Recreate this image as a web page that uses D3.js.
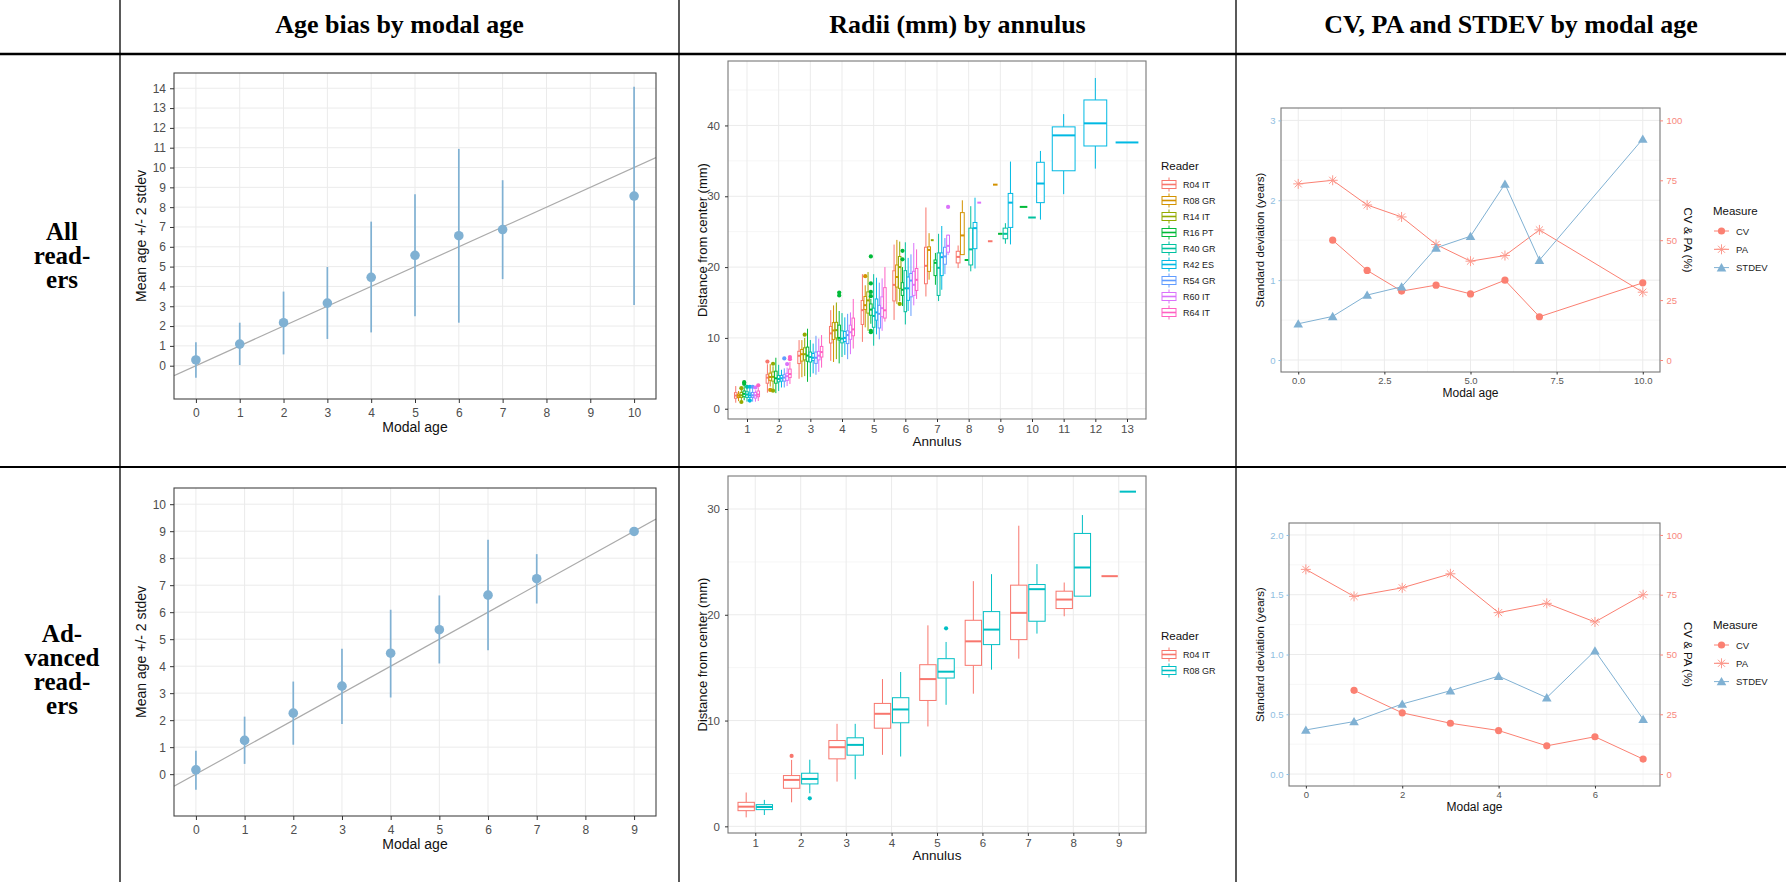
<!DOCTYPE html>
<html>
<head>
<meta charset="utf-8">
<script src="https://cdn.jsdelivr.net/npm/d3@7"></script>
<style>
  body { margin: 0; background: #fff; }
  svg text { font-family: "Liberation Sans", Arial, sans-serif; }
  svg text.tbl { font-family: "Liberation Serif", "Times New Roman", serif; font-weight: bold; }
</style>
</head>
<body>
<svg id="fig" width="1786" height="882"></svg>
<script>
// ---- table text ----
var headers = ["Age bias by modal age", "Radii (mm) by annulus", "CV, PA and STDEV by modal age"];
var rowLabelsAll = ["All", "read-", "ers"];
var rowLabelsAdv = ["Ad-", "vanced", "read-", "ers"];

// ---- age bias (mean +/- 2 stdev) ----
var biasAllAge = [0, 1, 2, 3, 4, 5, 6, 7, 10];
var biasAllMean = [0.29, 1.09, 2.17, 3.16, 4.46, 5.57, 6.56, 6.87, 8.56];
var biasAllLow = [-0.61, 0.03, 0.57, 1.35, 1.68, 2.49, 2.17, 4.37, 3.06];
var biasAllHigh = [1.18, 2.17, 3.74, 4.98, 7.27, 8.65, 10.94, 9.36, 14.08];
var biasAllXTicks = [0, 1, 2, 3, 4, 5, 6, 7, 8, 9, 10];
var biasAllYTicks = [0, 1, 2, 3, 4, 5, 6, 7, 8, 9, 10, 11, 12, 13, 14];

var biasAdvAge = [0, 1, 2, 3, 4, 5, 6, 7, 9];
var biasAdvMean = [0.16, 1.25, 2.26, 3.26, 4.48, 5.35, 6.63, 7.24, 8.99];
var biasAdvLow = [-0.58, 0.38, 1.09, 1.86, 2.84, 4.10, 4.59, 6.32, 8.99];
var biasAdvHigh = [0.87, 2.13, 3.43, 4.65, 6.09, 6.62, 8.68, 8.15, 8.99];
var biasAdvXTicks = [0, 1, 2, 3, 4, 5, 6, 7, 8, 9];
var biasAdvYTicks = [0, 1, 2, 3, 4, 5, 6, 7, 8, 9, 10];

// ---- radii boxplots: per reader, per annulus [low whisker, q1, median, q3, high whisker] ----
var readersAll = ["R04 IT", "R08 GR", "R14 IT", "R16 PT", "R40 GR", "R42 ES", "R54 GR", "R60 IT", "R64 IT"];
var readersAdv = ["R04 IT", "R08 GR"];
var annulusAll = [1, 2, 3, 4, 5, 6, 7, 8, 9, 10, 11, 12, 13];
var annulusAdv = [1, 2, 3, 4, 5, 6, 7, 8, 9];
var radiiYTicksAll = [0, 10, 20, 30, 40];
var radiiYMinorAll = [5, 15, 25, 35, 45];
var radiiYTicksAdv = [0, 10, 20, 30];
var radiiYMinorAdv = [5, 15, 25];

var r04 = [[0.85, 1.48, 1.86, 2.27, 3.2], [2.27, 3.6, 4.39, 4.8, 6.28], [4.23, 6.38, 7.48, 8.11, 9.69],
  [6.76, 9.28, 10.64, 11.62, 13.92], [9.44, 11.9, 13.92, 15.28, 19.0], [12.54, 15.22, 17.49, 19.48, 23.18],
  [15.85, 17.65, 20.18, 22.8, 28.42], [19.86, 20.59, 21.44, 22.23, 23.05], [23.65, 23.65, 23.65, 23.65, 23.65]];
var r08 = [[1.07, 1.58, 1.83, 2.05, 2.5], [3.13, 4.01, 4.48, 5.02, 6.3], [4.45, 6.73, 7.7, 8.37, 9.69],
  [6.6, 9.79, 11.05, 12.16, 14.59], [11.49, 14.02, 14.62, 15.85, 17.43], [14.81, 17.18, 18.6, 20.3, 23.84],
  [18.22, 19.39, 22.42, 22.86, 24.79], [21.76, 21.76, 24.47, 27.69, 29.43], [31.64, 31.64, 31.64, 31.64, 31.64]];
var r14 = [[1.1, 1.6, 1.9, 2.3, 2.7], [2.8, 3.9, 4.5, 5.2, 6.0], [4.6, 6.9, 7.7, 8.6, 10.0],
  [7.0, 10.0, 11.1, 12.2, 15.0], [11.0, 13.5, 15.3, 16.5, 19.3], [15.2, 17.0, 20.0, 21.5, 23.6],
  [23.8, 23.8, 23.8, 23.8, 23.8]];
var r16 = [[1.2, 1.7, 2.1, 2.5, 3.2], [2.2, 3.6, 4.3, 5.3, 7.2], [3.8, 6.7, 7.5, 8.7, 11.3],
  [6.4, 9.7, 10.0, 11.8, 13.8], [12.0, 13.2, 14.0, 14.8, 15.5], [14.5, 16.0, 16.8, 17.8, 20.0],
  [17.5, 18.8, 20.6, 21.0, 22.0], [21.0, 21.0, 21.0, 21.0, 21.0], [24.7, 24.7, 24.7, 24.7, 24.7],
  [28.5, 28.5, 28.5, 28.5, 28.5]];
var r40 = [[1.0, 1.6, 2.0, 2.4, 3.0], [2.5, 3.8, 4.2, 4.7, 6.2], [4.5, 6.6, 7.3, 8.0, 9.7],
  [7.3, 9.3, 9.9, 11.0, 13.5], [8.9, 11.5, 13.1, 14.2, 19.0], [11.9, 13.7, 17.0, 19.5, 23.5],
  [15.2, 16.0, 19.9, 22.0, 24.7], [19.4, 20.3, 22.5, 25.5, 28.6], [23.3, 24.0, 24.7, 25.5, 26.2],
  [27.0, 27.0, 27.0, 27.0, 27.0]];
var r42 = [[1.4, 1.6, 1.9, 2.2, 2.8], [3.0, 3.9, 4.3, 4.7, 5.5], [5.0, 6.8, 7.2, 7.8, 9.2],
  [7.6, 9.5, 10.0, 10.9, 12.9], [10.5, 12.5, 13.6, 15.5, 18.5], [13.8, 15.3, 17.0, 18.6, 21.3],
  [16.8, 18.8, 21.4, 22.0, 25.8], [19.8, 22.6, 25.5, 26.3, 29.8], [23.2, 25.6, 29.1, 30.4, 34.9],
  [26.7, 29.1, 31.8, 34.8, 36.4], [30.3, 33.6, 38.6, 39.8, 41.6], [33.9, 37.1, 40.3, 43.6, 46.7],
  [37.6, 37.6, 37.6, 37.6, 37.6]];
var r54 = [[1.0, 1.6, 1.9, 2.3, 2.9], [3.0, 3.9, 4.4, 4.8, 5.7], [4.8, 6.4, 7.2, 8.0, 10.3],
  [7.0, 9.2, 10.4, 11.0, 13.4], [9.8, 11.4, 13.4, 14.6, 17.8], [13.1, 15.8, 18.1, 19.1, 21.8],
  [19.0, 20.4, 21.5, 22.8, 24.1]];
var r60 = [[1.0, 1.5, 1.9, 2.3, 2.6], [3.2, 4.0, 4.6, 5.0, 5.8], [5.2, 6.9, 7.5, 8.1, 9.9],
  [7.7, 9.8, 10.8, 11.8, 13.6], [11.0, 13.0, 14.2, 15.8, 18.4], [14.6, 16.0, 17.5, 19.4, 23.4],
  [21.7, 22.1, 23.0, 24.5, 24.6], [29.1, 29.1, 29.1, 29.1, 29.1]];
var r64 = [[1.1, 1.7, 2.0, 2.5, 3.0], [3.5, 4.4, 4.9, 5.6, 6.6], [5.8, 7.3, 8.0, 8.8, 10.4],
  [8.5, 10.3, 11.2, 12.8, 15.5], [12.3, 12.8, 13.9, 17.1, 20.0], [15.5, 16.7, 18.2, 19.8, 22.5]];

// outliers: [annulus, value]
var r04Out = [[2, 6.66]];
var r08Out = [[2, 2.65], [5, 18.72]];
var r14Out = [[1, 2.9], [1, 0.95], [2, 6.35], [2, 2.55], [3, 10.45], [6, 14.8]];
var r16Out = [[1, 3.5], [1, 3.75], [4, 16.0], [4, 16.4], [5, 21.5], [5, 17.7], [5, 16.5], [5, 15.9], [5, 11.0], [5, 10.8], [6, 22.3], [6, 21.1]];
var r40Out = [[1, 3.1]];
var r42Out = [[1, 1.15], [1, 3.1]];
var r54Out = [[1, 3.1], [2, 7.1]];
var r60Out = [[1, 3.0], [2, 6.3], [7, 28.5]];
var r64Out = [[1, 3.3], [2, 7.0], [2, 7.3]];

// ---- CV, PA (%) and STDEV (years) ----
var measAllAge = [0, 1, 2, 3, 4, 5, 6, 7, 10];
var stdevAll = [0.454, 0.546, 0.813, 0.917, 1.404, 1.55, 2.204, 1.25, 2.767];
var cvAll = [null, 50.0, 37.4, 28.75, 31.25, 27.6, 33.3, 18.05, 32.2];
var paAll = [73.5, 75.0, 64.7, 59.7, 48.2, 41.25, 43.6, 54.3, 28.3];
var measAllXTicks = [0, 2.5, 5, 7.5, 10];
var measAllXMinor = [1.25, 3.75, 6.25, 8.75];
var measAllYTicks = [0, 1, 2, 3];
var measAllYMinor = [0.5, 1.5, 2.5];

var measAdvAge = [0, 1, 2, 3, 4, 5, 6, 7];
var stdevAdv = [0.369, 0.439, 0.586, 0.697, 0.819, 0.639, 1.031, 0.458];
var cvAdv = [null, 35.0, 25.6, 21.25, 18.2, 11.8, 15.6, 6.25];
var paAdv = [85.6, 74.3, 77.9, 83.75, 67.5, 71.4, 63.6, 75.0];
var measAdvXTicks = [0, 2, 4, 6];
var measAdvXMinor = [1, 3, 5, 7];
var measAdvYTicks = [0, 0.5, 1, 1.5, 2];
var measAdvYMinor = [0.25, 0.75, 1.25, 1.75];
var pctTicks = [0, 25, 50, 75, 100];
var measureNames = ["CV", "PA", "STDEV"];

// ---- colours ----
var blue = "#80B1D3";
var salmon = "#FB8072";
var hue9 = ["#F8766D", "#D39200", "#93AA00", "#00BA38", "#00C19F", "#00B9E3", "#619CFF", "#DB72FB", "#FF61C3"];
var hue2 = ["#F8766D", "#00BFC4"];

var svg = d3.select("#fig");
var clipN = 0;

function makeClip(b) {
  var id = "clip" + (clipN++);
  svg.append("clipPath").attr("id", id).append("rect")
    .attr("x", b.l).attr("y", b.t).attr("width", b.r - b.l).attr("height", b.b - b.t);
  return "url(#" + id + ")";
}

function gridLines(g, b, x, y, xs, ys, color, w) {
  g.append("g").selectAll("line").data(xs).join("line")
    .attr("x1", d => x(d)).attr("x2", d => x(d)).attr("y1", b.t).attr("y2", b.b)
    .attr("stroke", color).attr("stroke-width", w);
  g.append("g").selectAll("line").data(ys).join("line")
    .attr("x1", b.l).attr("x2", b.r).attr("y1", d => y(d)).attr("y2", d => y(d))
    .attr("stroke", color).attr("stroke-width", w);
}

function styleAxis(ax, size, textColor, tickColor) {
  ax.select(".domain").remove();
  ax.attr("font-size", size).attr("font-family", null);
  ax.selectAll(".tick line").attr("stroke", tickColor || "#333");
  ax.selectAll(".tick text").attr("fill", textColor || "#4D4D4D");
}

function border(g, b, color) {
  g.append("rect").attr("x", b.l).attr("y", b.t).attr("width", b.r - b.l).attr("height", b.b - b.t)
    .attr("fill", "none").attr("stroke", color).attr("stroke-width", 1.1);
}

// ---------- table ----------
[120, 679, 1236].forEach(function(xv) {
  svg.append("line").attr("x1", xv).attr("x2", xv).attr("y1", 0).attr("y2", 882)
    .attr("stroke", "#000").attr("stroke-width", 1.3);
});
svg.append("line").attr("x1", 0).attr("x2", 1786).attr("y1", 54).attr("y2", 54)
  .attr("stroke", "#000").attr("stroke-width", 2.6);
svg.append("line").attr("x1", 0).attr("x2", 1786).attr("y1", 467).attr("y2", 467)
  .attr("stroke", "#000").attr("stroke-width", 1.8);

var colCenters = [399.5, 957.5, 1511];
svg.selectAll("text.hdr").data(headers).join("text")
  .attr("class", "tbl hdr").attr("x", (d, i) => colCenters[i]).attr("y", 33)
  .attr("text-anchor", "middle").attr("font-size", 26).text(d => d);

// row labels: one text element per cell, one tspan per line
function rowLabel(lines, y0) {
  var t = svg.append("text").attr("class", "tbl").attr("x", 62).attr("y", y0)
    .attr("text-anchor", "middle").attr("font-size", 25);
  t.selectAll("tspan").data(lines).join("tspan")
    .attr("x", 62).attr("dy", (d, i) => i === 0 ? 0 : 24).text(d => d);
}
rowLabel(rowLabelsAll, 240);
rowLabel(rowLabelsAdv, 642);

// ---------- age bias ----------
function biasChart(b, ages, mean, low, high, xDom, xTicks, yDom, yTicks) {
  var x = d3.scaleLinear().domain(xDom).range([b.l, b.r]);
  var y = d3.scaleLinear().domain(yDom).range([b.b, b.t]);
  var g = svg.append("g");
  gridLines(g, b, x, y, xTicks, yTicks, "#EBEBEB", 1);

  g.append("line").attr("clip-path", makeClip(b))
    .attr("x1", x(xDom[0])).attr("y1", y(xDom[0]))
    .attr("x2", x(xDom[1])).attr("y2", y(xDom[1]))
    .attr("stroke", "#ABABAB").attr("stroke-width", 1.2);

  var pts = ages.map((a, i) => ({ a: a, m: mean[i], lo: low[i], hi: high[i] }));
  g.append("g").selectAll("line").data(pts).join("line")
    .attr("x1", d => x(d.a)).attr("x2", d => x(d.a))
    .attr("y1", d => y(d.lo)).attr("y2", d => y(d.hi))
    .attr("stroke", blue).attr("stroke-width", 1.7);
  g.append("g").selectAll("circle").data(pts).join("circle")
    .attr("cx", d => x(d.a)).attr("cy", d => y(d.m)).attr("r", 4.8).attr("fill", blue);

  border(g, b, "#444");

  var ax = g.append("g").attr("transform", "translate(0," + b.b + ")")
    .call(d3.axisBottom(x).tickValues(xTicks).tickSize(4).tickPadding(5));
  styleAxis(ax, 12);
  var ay = g.append("g").attr("transform", "translate(" + b.l + ",0)")
    .call(d3.axisLeft(y).tickValues(yTicks).tickSize(4).tickPadding(4));
  styleAxis(ay, 12);

  g.append("text").attr("x", (b.l + b.r) / 2).attr("y", b.b + 33)
    .attr("text-anchor", "middle").attr("font-size", 14).attr("fill", "#111").text("Modal age");
  g.append("text").attr("transform", "translate(146," + (b.t + b.b) / 2 + ") rotate(-90)")
    .attr("text-anchor", "middle").attr("font-size", 14).attr("fill", "#111").text("Mean age +/- 2 stdev");
}

biasChart({ l: 174, r: 656, t: 73, b: 399 }, biasAllAge, biasAllMean, biasAllLow, biasAllHigh,
  [-0.5, 10.5], biasAllXTicks, [-1.68, 14.77], biasAllYTicks);
biasChart({ l: 174, r: 656, t: 488, b: 816 }, biasAdvAge, biasAdvMean, biasAdvLow, biasAdvHigh,
  [-0.45, 9.45], biasAdvXTicks, [-1.55, 10.6], biasAdvYTicks);

// ---------- radii by annulus ----------
function radiiChart(b, names, colors, boxes, outs, annuli, yDom, yTicks, yMinor, legTop) {
  var x = d3.scaleLinear().domain([0.4, annuli.length + 0.6]).range([b.l, b.r]);
  var y = d3.scaleLinear().domain(yDom).range([b.b, b.t]);
  var g = svg.append("g");
  gridLines(g, b, x, y, [], yMinor, "#F4F4F4", 0.8);
  gridLines(g, b, x, y, annuli, yTicks, "#EBEBEB", 1);

  var items = [];
  annuli.forEach(function(a) {
    var here = names.map((n, i) => i).filter(i => boxes[i][a - 1]);
    var slot = 0.8 / here.length;
    here.forEach(function(i, j) {
      items.push({
        c: a - 0.4 + (j + 0.5) * slot,
        half: slot * 0.45,
        s: boxes[i][a - 1],
        col: colors[i],
        outs: outs[i].filter(o => o[0] === a).map(o => o[1])
      });
    });
  });

  var bx = g.append("g").selectAll("g").data(items).join("g");
  bx.append("line").attr("x1", d => x(d.c)).attr("x2", d => x(d.c))
    .attr("y1", d => y(d.s[0])).attr("y2", d => y(d.s[1])).attr("stroke", d => d.col).attr("stroke-width", 1);
  bx.append("line").attr("x1", d => x(d.c)).attr("x2", d => x(d.c))
    .attr("y1", d => y(d.s[3])).attr("y2", d => y(d.s[4])).attr("stroke", d => d.col).attr("stroke-width", 1);
  bx.append("rect").attr("x", d => x(d.c - d.half)).attr("width", d => x(d.c + d.half) - x(d.c - d.half))
    .attr("y", d => y(d.s[3])).attr("height", d => y(d.s[1]) - y(d.s[3]))
    .attr("fill", "#fff").attr("stroke", d => d.col).attr("stroke-width", 1);
  bx.append("line").attr("x1", d => x(d.c - d.half)).attr("x2", d => x(d.c + d.half))
    .attr("y1", d => y(d.s[2])).attr("y2", d => y(d.s[2])).attr("stroke", d => d.col).attr("stroke-width", 2);
  bx.each(function(d) {
    d3.select(this).selectAll("circle").data(d.outs).join("circle")
      .attr("cx", x(d.c)).attr("cy", v => y(v)).attr("r", 2.1).attr("fill", d.col);
  });

  border(g, b, "#777");

  var ax = g.append("g").attr("transform", "translate(0," + b.b + ")")
    .call(d3.axisBottom(x).tickValues(annuli).tickSize(3).tickPadding(3));
  styleAxis(ax, 11.5);
  var ay = g.append("g").attr("transform", "translate(" + b.l + ",0)")
    .call(d3.axisLeft(y).tickValues(yTicks).tickSize(3).tickPadding(5));
  styleAxis(ay, 11.5);

  g.append("text").attr("x", (b.l + b.r) / 2).attr("y", b.b + 27)
    .attr("text-anchor", "middle").attr("font-size", 13.5).attr("fill", "#111").text("Annulus");
  g.append("text").attr("transform", "translate(707," + (b.t + b.b) / 2 + ") rotate(-90)")
    .attr("text-anchor", "middle").attr("font-size", 13).attr("fill", "#111").text("Distance from center (mm)");

  // legend
  var lg = g.append("g");
  lg.append("text").attr("x", 1161).attr("y", legTop).attr("font-size", 11.5).attr("fill", "#111").text("Reader");
  var keys = lg.selectAll("g").data(names).join("g")
    .attr("transform", (d, i) => "translate(1162," + (legTop + 14.5 + i * 16) + ")");
  keys.append("line").attr("x1", 7).attr("x2", 7).attr("y1", -7).attr("y2", 7)
    .attr("stroke", (d, i) => colors[i]).attr("stroke-width", 1);
  keys.append("rect").attr("x", 0).attr("y", -4).attr("width", 14).attr("height", 8)
    .attr("fill", "#fff").attr("stroke", (d, i) => colors[i]).attr("stroke-width", 1);
  keys.append("line").attr("x1", 0).attr("x2", 14).attr("y1", 0).attr("y2", 0)
    .attr("stroke", (d, i) => colors[i]).attr("stroke-width", 1.6);
  keys.append("text").attr("x", 21).attr("y", 3).attr("font-size", 9).attr("fill", "#222").text(d => d);
}

radiiChart({ l: 728, r: 1146, t: 61, b: 419 }, readersAll, hue9,
  [r04, r08, r14, r16, r40, r42, r54, r60, r64],
  [r04Out, r08Out, r14Out, r16Out, r40Out, r42Out, r54Out, r60Out, r64Out],
  annulusAll, [-1.45, 49.1], radiiYTicksAll, radiiYMinorAll, 170);
radiiChart({ l: 728, r: 1146, t: 476, b: 833 }, readersAdv, hue2,
  [r04, r08], [r04Out, r08Out],
  annulusAdv, [-0.63, 33.12], radiiYTicksAdv, radiiYMinorAdv, 640);

// ---------- CV, PA and STDEV ----------
function asterisk(r) {
  var d = r * 0.707;
  return "M" + (-r) + ",0L" + r + ",0M0," + (-r) + "L0," + r +
    "M" + (-d) + "," + (-d) + "L" + d + "," + d + "M" + (-d) + "," + d + "L" + d + "," + (-d);
}
var triangle = d3.symbol().type(d3.symbolTriangle).size(40)();

function measureChart(b, ages, sd, cv, pa, xDom, xTicks, xMinor, xFmt, yDom, yTicks, yMinor, yFmt, pctPerUnit, legTop) {
  var x = d3.scaleLinear().domain(xDom).range([b.l, b.r]);
  var y = d3.scaleLinear().domain(yDom).range([b.b, b.t]);
  var yp = d3.scaleLinear().domain([yDom[0] * pctPerUnit, yDom[1] * pctPerUnit]).range([b.b, b.t]);
  var g = svg.append("g");
  gridLines(g, b, x, y, xMinor, yMinor, "#F4F4F4", 0.8);
  gridLines(g, b, x, y, xTicks, yTicks, "#EBEBEB", 1);

  var sdPts = ages.map((a, i) => ({ a: a, v: sd[i] }));
  var cvPts = ages.map((a, i) => ({ a: a, v: cv[i] })).filter(d => d.v != null);
  var paPts = ages.map((a, i) => ({ a: a, v: pa[i] }));

  var lineSd = d3.line().x(d => x(d.a)).y(d => y(d.v));
  var linePct = d3.line().x(d => x(d.a)).y(d => yp(d.v));
  g.append("path").attr("d", linePct(paPts)).attr("fill", "none").attr("stroke", salmon).attr("stroke-width", 1);
  g.append("path").attr("d", linePct(cvPts)).attr("fill", "none").attr("stroke", salmon).attr("stroke-width", 1);
  g.append("path").attr("d", lineSd(sdPts)).attr("fill", "none").attr("stroke", blue).attr("stroke-width", 1);

  g.append("g").selectAll("circle").data(cvPts).join("circle")
    .attr("cx", d => x(d.a)).attr("cy", d => yp(d.v)).attr("r", 3.6).attr("fill", salmon);
  g.append("g").selectAll("path").data(paPts).join("path")
    .attr("transform", d => "translate(" + x(d.a) + "," + yp(d.v) + ")")
    .attr("d", asterisk(5)).attr("stroke", "#FC9A8E").attr("stroke-width", 1).attr("fill", "none");
  g.append("g").selectAll("path").data(sdPts).join("path")
    .attr("transform", d => "translate(" + x(d.a) + "," + (y(d.v) + 1) + ")")
    .attr("d", triangle).attr("fill", blue);

  border(g, b, "#777");

  var ax = g.append("g").attr("transform", "translate(0," + b.b + ")")
    .call(d3.axisBottom(x).tickValues(xTicks).tickFormat(d3.format(xFmt)).tickSize(2.5).tickPadding(3));
  styleAxis(ax, 9.5, "#555");
  var ay = g.append("g").attr("transform", "translate(" + b.l + ",0)")
    .call(d3.axisLeft(y).tickValues(yTicks).tickFormat(d3.format(yFmt)).tickSize(2.5).tickPadding(3));
  styleAxis(ay, 9.5, "#8FBEDF", "#8FBEDF");
  var ar = g.append("g").attr("transform", "translate(" + b.r + ",0)")
    .call(d3.axisRight(yp).tickValues(pctTicks).tickSize(3).tickPadding(3.5));
  styleAxis(ar, 9.5, "#F8887D", "#F8887D");

  g.append("text").attr("x", (b.l + b.r) / 2).attr("y", b.b + 25)
    .attr("text-anchor", "middle").attr("font-size", 12).attr("fill", "#111").text("Modal age");
  g.append("text").attr("transform", "translate(1264," + (b.t + b.b) / 2 + ") rotate(-90)")
    .attr("text-anchor", "middle").attr("font-size", 11.5).attr("fill", "#111").text("Standard deviation (years)");
  g.append("text").attr("transform", "translate(1684," + (b.t + b.b) / 2 + ") rotate(90)")
    .attr("text-anchor", "middle").attr("font-size", 11.5).attr("fill", "#111").text("CV & PA (%)");

  // legend
  var lg = g.append("g");
  lg.append("text").attr("x", 1713).attr("y", legTop).attr("font-size", 11.5).attr("fill", "#111").text("Measure");
  var keys = lg.selectAll("g").data(measureNames).join("g")
    .attr("transform", (d, i) => "translate(1714," + (legTop + 16 + i * 18.3) + ")");
  keys.append("line").attr("x1", 0).attr("x2", 15).attr("y1", 0).attr("y2", 0)
    .attr("stroke", (d, i) => i === 2 ? blue : salmon).attr("stroke-width", 1);
  keys.each(function(d, i) {
    var k = d3.select(this);
    if (i === 0) k.append("circle").attr("cx", 7.5).attr("cy", 0).attr("r", 3.6).attr("fill", salmon);
    if (i === 1) k.append("path").attr("transform", "translate(7.5,0)").attr("d", asterisk(5))
      .attr("stroke", "#FC9A8E").attr("stroke-width", 1).attr("fill", "none");
    if (i === 2) k.append("path").attr("transform", "translate(7.5,1)").attr("d", triangle).attr("fill", blue);
  });
  keys.append("text").attr("x", 22).attr("y", 3.5).attr("font-size", 9.5).attr("fill", "#222").text(d => d);
}

measureChart({ l: 1281, r: 1660, t: 108, b: 372 }, measAllAge, stdevAll, cvAll, paAll,
  [-0.5, 10.5], measAllXTicks, measAllXMinor, ".1f",
  [-0.15, 3.155], measAllYTicks, measAllYMinor, "d", 100 / 3, 215);
measureChart({ l: 1289, r: 1660, t: 523, b: 786 }, measAdvAge, stdevAdv, cvAdv, paAdv,
  [-0.35, 7.35], measAdvXTicks, measAdvXMinor, "d",
  [-0.1, 2.1], measAdvYTicks, measAdvYMinor, ".1f", 50, 629);
</script>
</body>
</html>
